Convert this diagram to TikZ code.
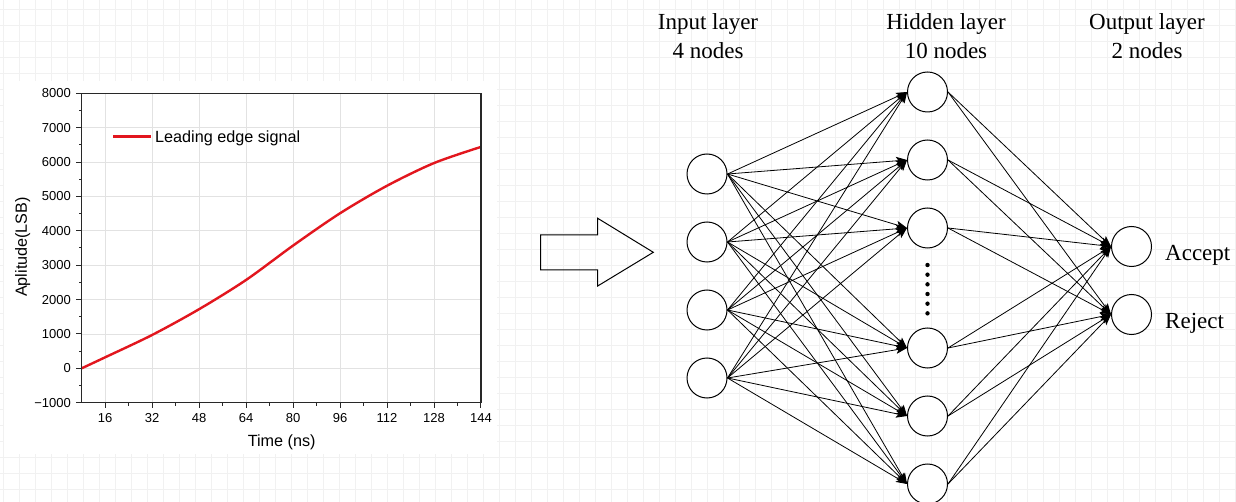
\documentclass[tikz,border=0pt]{standalone}
\usepackage{fontspec}
\setmainfont{Liberation Serif}
\newfontfamily\plotfont{Liberation Sans}
\usetikzlibrary{arrows.meta}
\definecolor{gridgray}{RGB}{241,241,241}
\definecolor{plotgrid}{RGB}{226,226,226}
\definecolor{framegray}{RGB}{40,40,40}
\definecolor{signalred}{RGB}{226,22,30}
\newcommand{\rowgap}[0]{68}

\begin{document}
\begin{tikzpicture}[x=1pt,y=-1pt,
        neuron/.style={shape=circle,draw=black,line width=1pt,minimum size=40pt,inner sep=0pt,fill=white},
        layertext/.style={align=center,inner sep=0pt,font=\fontsize{23}{29}\selectfont},
        wire/.style={line width=0.8pt,-{Stealth[length=11pt,width=8pt,inset=2.5pt]}},
        ticklabel/.style={inner sep=0pt,font=\plotfont\fontsize{13}{13}\selectfont},
        axistitle/.style={inner sep=0pt,font=\plotfont\fontsize{16.2}{16}\selectfont}]
        \useasboundingbox (0,0) rectangle (1236,502);
        \fill[white] (0,0) rectangle (1236,502);

        %background grid
        \foreach \gx in {0,...,77}
            \draw[gridgray,line width=1pt] ({3+16*\gx},0) -- ({3+16*\gx},502);
        \foreach \gy in {0,...,30}
            \draw[gridgray,line width=1pt] (0,{9.3+16*\gy}) -- (1236,{9.3+16*\gy});

        %signal plot
        \fill[white] (4,81.5) rectangle (497,453.5);
        \begin{scope}[shift={(58.2,368.3)},x=2.936pt,y=0.03438pt]
            \foreach \t in {16,32,...,128}
                \draw[plotgrid,line width=0.8pt] (\t,-1000) -- (\t,8000);
            \foreach \v in {0,1000,...,7000}
                \draw[plotgrid,line width=0.8pt] (8,\v) -- (144,\v);
            \foreach \v/\lab in {-1000/−1000,0/0,1000/1000,2000/2000,3000/3000,4000/4000,5000/5000,6000/6000,7000/7000,8000/8000} {
                \draw[framegray,line width=1pt] (8,\v) -- ++(-5.7pt,0pt);
                \node[ticklabel,anchor=east] (ylab\v) at ([xshift=-10.7pt]8,\v) {\lab};
            }
            \foreach \v in {-500,500,...,7500}
                \draw[framegray,line width=1pt] (8,\v) -- ++(-2.7pt,0pt);
            \foreach \t in {16,32,...,144} {
                \draw[framegray,line width=1pt] (\t,-1000) -- ++(0pt,-5.7pt);
                \node[ticklabel] (xlab\t) at ([yshift=-15.6pt]\t,-1000) {\t};
            }
            \foreach \t in {24,40,...,136}
                \draw[framegray,line width=1pt] (\t,-1000) -- ++(0pt,-3pt);
            \draw[signalred,line width=2.4pt] plot[smooth] coordinates {(8,0) (16,320) (32,970) (48,1720) (64,2570) (80,3570) (96,4510) (112,5310) (128,5970) (144,6440)};
            \draw[framegray,line width=1.4pt] (8,-1000) rectangle (144,8000);
        \end{scope}
        \draw[signalred,line width=2.4pt] (113,136.7) -- (151,136.7);
        \node[axistitle,anchor=base west] (legend) at (155,142.7) {Leading edge signal};
        \node[axistitle,anchor=base] (xtitle) at (281.7,446.5) {Time (ns)};
        \node[axistitle,anchor=base,rotate=90] (ytitle) at (27,247) {Aplitude(LSB)};

        %hollow arrow between plot and network
        \draw[line width=1pt] (540.7,235) -- (597.7,235) -- (597.7,218.3) -- (653.3,252.3)
            -- (597.7,286) -- (597.7,270) -- (540.7,270) -- cycle;

        %layers
        \foreach \i in {1,...,4}
            \node[neuron] (in\i) at (707,{174+\rowgap*(\i-1)}) {};
        \foreach \j/\hy in {1/92,2/160,3/228,4/348,5/416,6/484}
            \node[neuron] (h\j) at (927.5,\hy) {};
        \node[neuron] (out1) at (1131.5,246.5) {};
        \node[neuron] (out2) at (1131.5,314.5) {};
        \foreach \k in {0,...,5}
            \fill (927.5,{265+9.67*\k}) circle (2.2pt);

        \node[layertext] (inlabel) at (708,36.5) {Input layer\\4 nodes};
        \node[layertext] (hlabel) at (946,36.5) {Hidden layer\\10 nodes};
        \node[layertext] (outlabel) at (1147,36.5) {Output layer\\2 nodes};
        \node[layertext,anchor=base west] (accept) at (1165,260.3) {Accept};
        \node[layertext,anchor=base west] (reject) at (1165,328.3) {Reject};

        %fully connected edges
        \foreach \i in {1,...,4}
            \foreach \j in {1,...,6}
                \path[wire] (in\i.east) edge (h\j.west);
        \foreach \j in {1,...,6}
            \foreach \k in {1,2}
                \path[wire] (h\j.east) edge (out\k.west);
\end{tikzpicture}
\end{document}
